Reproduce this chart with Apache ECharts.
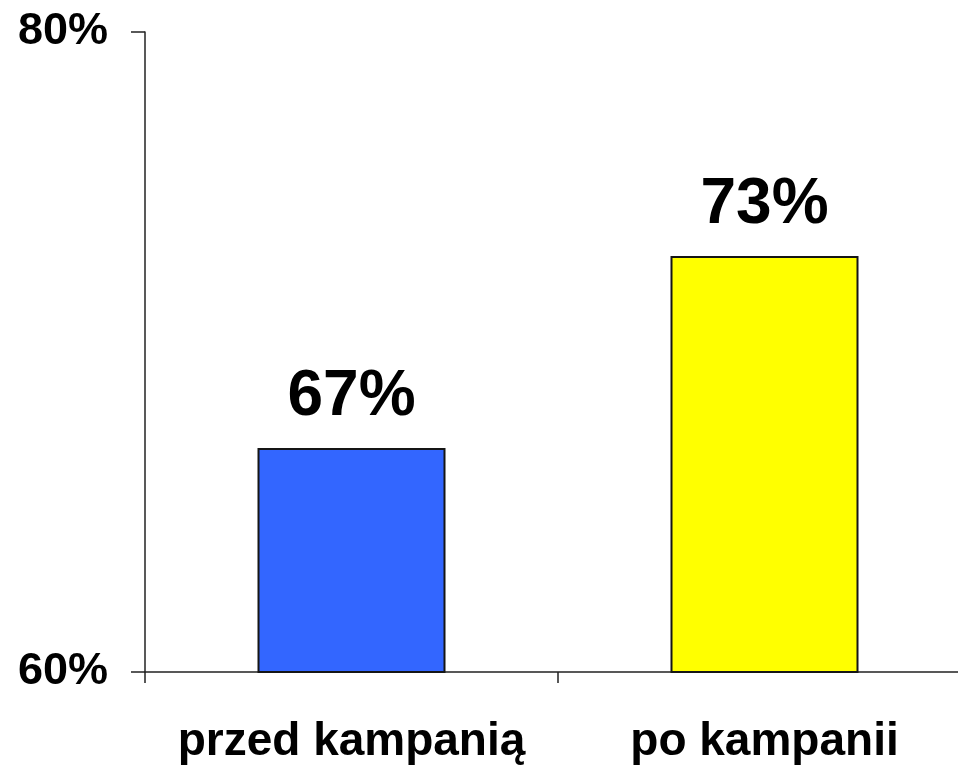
<!DOCTYPE html>
<html>
<head>
	<meta charset="utf-8">
	<title></title>
	<style>
		html, body { margin: 0; padding: 0; background: #fff; overflow: hidden; }
		/* wykres szerszy od okna: oś X wychodzi za prawą krawędź jak w oryginale */
		#chart { width: 972px; height: 765px; }
	</style>
</head>
<body>
<div id="chart"></div>
<script src="https://cdn.jsdelivr.net/npm/echarts@6/dist/echarts.min.js"></script>
<script type="text/javascript">
// dane z wykresu
var categories = ['przed kampanią', 'po kampanii'];
var values = [67, 73];
var barColors = ['#3366FF', '#FFFF00'];
var yTicks = [60, 80];

var chart = echarts.init(document.getElementById('chart'), null, {renderer: 'canvas'});

var font = '"Liberation Sans", Arial, sans-serif';

chart.setOption({
	animation: false,
	backgroundColor: '#fff',
	grid: { left: 145, top: 32, width: 826, height: 640, containLabel: false },
	xAxis: {
		type: 'category',
		data: categories,
		axisLine: { lineStyle: { color: '#222', width: 1.5 } },
		axisTick: { show: true, length: 11, lineStyle: { color: '#222', width: 1.5 } },
		axisLabel: { margin: 47, interval: 0, fontFamily: font, fontWeight: 'bold', fontSize: 46, color: '#000' }
	},
	yAxis: {
		type: 'value',
		min: yTicks[0],
		max: yTicks[yTicks.length - 1],
		interval: yTicks[1] - yTicks[0],
		splitLine: { show: false },
		axisLine: { show: true, lineStyle: { color: '#222', width: 1.5 } },
		axisTick: { show: true, length: 14, lineStyle: { color: '#222', width: 1.5 } },
		axisLabel: { margin: 37, formatter: '{value}%', fontFamily: font, fontWeight: 'bold', fontSize: 45, color: '#000' }
	},
	series: [{
		type: 'bar',
		barWidth: 188,
		data: values.map(function (v, i) {
			return { value: v, itemStyle: { color: barColors[i] } };
		}),
		itemStyle: { borderColor: '#151515', borderWidth: 2 },
		label: {
			show: true,
			position: 'top',
			distance: 19,
			formatter: '{c}%',
			fontFamily: font,
			fontWeight: 'bold',
			fontSize: 64,
			color: '#000'
		}
	}]
});
</script>
</body>
</html>
